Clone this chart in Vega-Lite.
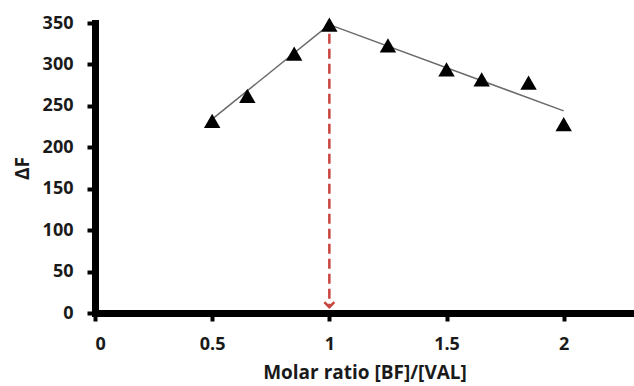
{
  "$schema": "https://vega.github.io/schema/vega-lite/v6.json",
  "width": 539,
  "height": 290,
  "autosize": {"type": "none"},
  "padding": {"left": 95, "top": 23, "right": 0, "bottom": 73},
  "background": "white",
  "config": {
    "view": {"stroke": null},
    "font": "Open Sans",
    "axis": {
      "grid": false,
      "domainColor": "#000000",
      "domainWidth": 7,
      "domainCap": "square",
      "tickColor": "#000000",
      "tickWidth": 4,
      "tickSize": 8,
      "labelFont": "Open Sans",
      "labelFontWeight": "bold",
      "labelFontSize": 18,
      "labelColor": "#1a1a1a",
      "titleFont": "Open Sans",
      "titleFontWeight": "bold",
      "titleFontSize": 19,
      "titleColor": "#1a1a1a"
    }
  },
  "datasets": {
    "measured": [
      {"ratio": 0.5, "dF": 232},
      {"ratio": 0.65, "dF": 262},
      {"ratio": 0.85, "dF": 313},
      {"ratio": 1.0, "dF": 348},
      {"ratio": 1.25, "dF": 323},
      {"ratio": 1.5, "dF": 294},
      {"ratio": 1.65, "dF": 282},
      {"ratio": 1.85, "dF": 278},
      {"ratio": 2.0, "dF": 228}
    ],
    "fits": [
      {"segment": "rise", "ratio": 0.5, "dF": 234},
      {"segment": "rise", "ratio": 1.0, "dF": 348},
      {"segment": "fall", "ratio": 1.0, "dF": 348},
      {"segment": "fall", "ratio": 2.0, "dF": 244}
    ],
    "breakpoint": [
      {"ratio": 1.0, "top": 337, "tip": 7}
    ]
  },
  "layer": [
    {
      "data": {"name": "fits"},
      "mark": {"type": "line", "color": "#6b6b6b", "strokeWidth": 1.5},
      "encoding": {
        "x": {
          "field": "ratio",
          "type": "quantitative",
          "scale": {"domain": [0, 2.3], "nice": false},
          "axis": {
            "values": [0, 0.5, 1, 1.5, 2],
            "format": "~r",
            "labelPadding": 14,
            "title": "Molar ratio [BF]/[VAL]",
            "titlePadding": 10
          }
        },
        "y": {
          "field": "dF",
          "type": "quantitative",
          "scale": {"domain": [0, 350], "nice": false},
          "axis": {
            "values": [0, 50, 100, 150, 200, 250, 300, 350],
            "labelPadding": 14,
            "title": "ΔF",
            "titlePadding": 10
          }
        },
        "detail": {"field": "segment"}
      }
    },
    {
      "data": {"name": "breakpoint"},
      "mark": {"type": "rule", "color": "#c8453f", "strokeWidth": 2.5, "strokeDash": [10, 5]},
      "encoding": {
        "x": {"field": "ratio", "type": "quantitative"},
        "y": {"field": "top", "type": "quantitative"},
        "y2": {"field": "tip"}
      }
    },
    {
      "data": {"name": "breakpoint"},
      "mark": {
        "type": "point",
        "shape": "M-1,-1L0,0L1,-1",
        "filled": false,
        "stroke": "#c8453f",
        "strokeWidth": 2.5,
        "size": 100,
        "opacity": 1
      },
      "encoding": {
        "x": {"field": "ratio", "type": "quantitative"},
        "y": {"field": "tip", "type": "quantitative"}
      }
    },
    {
      "data": {"name": "measured"},
      "mark": {"type": "point", "shape": "triangle-up", "filled": true, "color": "#000000", "size": 270, "opacity": 1},
      "encoding": {
        "x": {"field": "ratio", "type": "quantitative"},
        "y": {"field": "dF", "type": "quantitative"}
      }
    }
  ]
}
